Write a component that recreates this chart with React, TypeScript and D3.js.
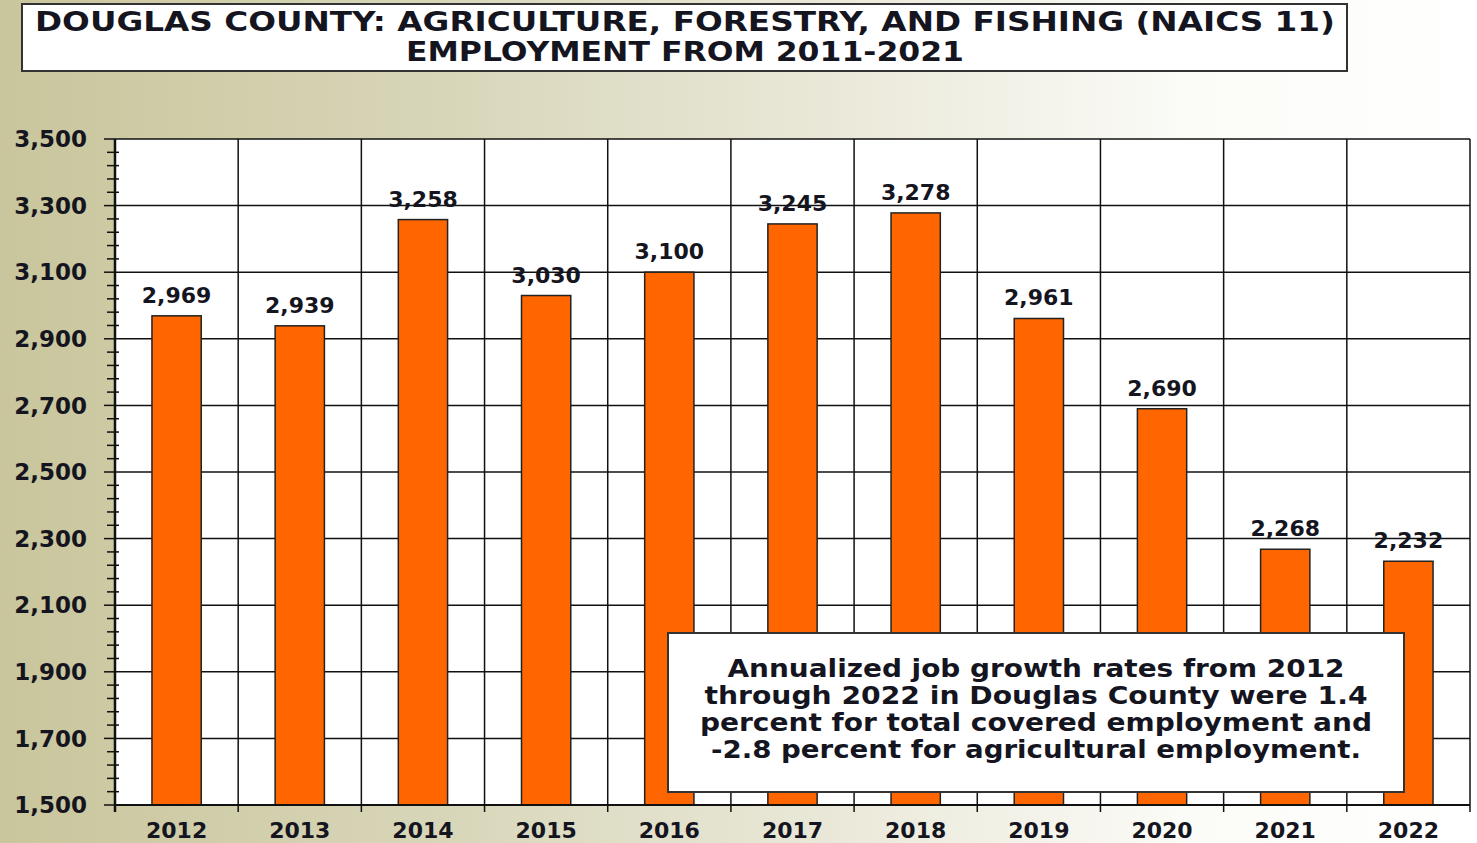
import React, { useEffect, useRef } from 'react';
import * as d3 from 'd3';

const years = ['2012', '2013', '2014', '2015', '2016', '2017', '2018', '2019', '2020', '2021', '2022'];
const employment = [2969, 2939, 3258, 3030, 3100, 3245, 3278, 2961, 2690, 2268, 2232];
const yTicks = [1500, 1700, 1900, 2100, 2300, 2500, 2700, 2900, 3100, 3300, 3500];
const titleLines = [
  'DOUGLAS COUNTY: AGRICULTURE, FORESTRY, AND FISHING (NAICS 11)',
  'EMPLOYMENT FROM 2011-2021',
];
const noteLines = [
  'Annualized job growth rates from 2012',
  'through 2022 in Douglas County were 1.4',
  'percent for total covered employment and',
  '-2.8 percent for agricultural employment.',
];

const W = 1477;
const H = 843;
const FONT = '"DejaVu Sans", Verdana, sans-serif';
const INK = '#15151f';

export default function App() {
  const svgRef = useRef<SVGSVGElement>(null);

  useEffect(() => {
    if (!svgRef.current) return;
    const svg = d3.select(svgRef.current);
    svg.selectAll('*').remove();

    const margin = { top: 139, right: 5, bottom: 38, left: 115 };
    const plotRight = W - margin.right;
    const plotBottom = H - margin.bottom;

    // background gradient
    const defs = svg.append('defs');
    const grad = defs.append('linearGradient').attr('id', 'bg').attr('x1', 0).attr('x2', 1).attr('y1', 0).attr('y2', 0);
    grad.append('stop').attr('offset', '0%').attr('stop-color', '#c9c59c');
    grad.append('stop').attr('offset', '30%').attr('stop-color', '#d8d6b9');
    grad.append('stop').attr('offset', '60%').attr('stop-color', '#ecebdd');
    grad.append('stop').attr('offset', '80%').attr('stop-color', '#fbfbf7');
    grad.append('stop').attr('offset', '100%').attr('stop-color', '#ffffff');
    svg.append('rect').attr('width', W).attr('height', H).attr('fill', 'url(#bg)');

    const x = d3.scaleBand().domain(years).range([margin.left, plotRight - 2]).paddingInner(0).paddingOuter(0);
    const y = d3.scaleLinear().domain([1500, 3500]).range([plotBottom, margin.top]);

    // plot area
    svg.append('rect')
      .attr('x', margin.left).attr('y', margin.top)
      .attr('width', plotRight - 2 - margin.left).attr('height', plotBottom - margin.top)
      .attr('fill', '#ffffff');

    // horizontal gridlines
    svg.append('g').selectAll('line').data(yTicks).join('line')
      .attr('x1', margin.left).attr('x2', plotRight - 2)
      .attr('y1', d => y(d)).attr('y2', d => y(d))
      .attr('stroke', '#111').attr('stroke-width', 1.5);

    // vertical gridlines at category boundaries
    const bounds = years.map(d => x(d) as number).concat([x.range()[1]]);
    svg.append('g').selectAll('line').data(bounds).join('line')
      .attr('x1', d => d).attr('x2', d => d)
      .attr('y1', margin.top).attr('y2', plotBottom + 7)
      .attr('stroke', '#111').attr('stroke-width', 1.5);

    // bars
    const barW = x.bandwidth() * 0.4;
    svg.append('g').selectAll('rect').data(employment).join('rect')
      .attr('x', (d, i) => (x(years[i]) as number) + x.bandwidth() / 2 - barW / 2)
      .attr('y', d => y(d))
      .attr('width', barW)
      .attr('height', d => plotBottom - y(d))
      .attr('fill', '#ff6600')
      .attr('stroke', '#222')
      .attr('stroke-width', 1.5);

    // bar value labels
    svg.append('g').selectAll('text').data(employment).join('text')
      .attr('x', (d, i) => (x(years[i]) as number) + x.bandwidth() / 2)
      .attr('y', d => y(d) - 13)
      .attr('text-anchor', 'middle')
      .attr('font-family', FONT).attr('font-weight', 'bold').attr('font-size', 22)
      .attr('fill', INK)
      .text(d => d3.format(',')(d));

    // y axis with minor ticks
    const minor = d3.range(1500, 3501, 40).filter(v => !yTicks.includes(v));
    svg.append('g').selectAll('line').data(minor).join('line')
      .attr('x1', margin.left - 8).attr('x2', margin.left + 4)
      .attr('y1', d => y(d)).attr('y2', d => y(d))
      .attr('stroke', '#111').attr('stroke-width', 1.5);
    svg.append('g').selectAll('line').data(yTicks).join('line')
      .attr('x1', margin.left - 11).attr('x2', margin.left)
      .attr('y1', d => y(d)).attr('y2', d => y(d))
      .attr('stroke', '#111').attr('stroke-width', 1.5);
    svg.append('line')
      .attr('x1', margin.left).attr('x2', margin.left)
      .attr('y1', margin.top).attr('y2', plotBottom + 7)
      .attr('stroke', '#111').attr('stroke-width', 2.5);
    svg.append('line')
      .attr('x1', margin.left).attr('x2', plotRight - 2)
      .attr('y1', plotBottom).attr('y2', plotBottom)
      .attr('stroke', '#111').attr('stroke-width', 2);

    svg.append('g').selectAll('text').data(yTicks).join('text')
      .attr('x', 87).attr('y', d => y(d)).attr('dy', '0.36em')
      .attr('text-anchor', 'end')
      .attr('font-family', FONT).attr('font-weight', 'bold').attr('font-size', 23)
      .attr('fill', INK)
      .text(d => d3.format(',')(d));

    // x labels
    svg.append('g').selectAll('text').data(years).join('text')
      .attr('x', d => (x(d) as number) + x.bandwidth() / 2)
      .attr('y', 838)
      .attr('text-anchor', 'middle')
      .attr('font-family', FONT).attr('font-weight', 'bold').attr('font-size', 22)
      .attr('fill', INK)
      .text(d => d);

    // title box
    svg.append('rect')
      .attr('x', 22).attr('y', 4).attr('width', 1325).attr('height', 67)
      .attr('fill', '#ffffff').attr('stroke', '#333').attr('stroke-width', 2);
    const titleWidths = [1300, 558];
    svg.append('g').selectAll('text').data(titleLines).join('text')
      .attr('x', 685).attr('y', (d, i) => 31 + i * 30)
      .attr('text-anchor', 'middle')
      .attr('font-family', FONT).attr('font-weight', 'bold').attr('font-size', 26)
      .attr('fill', INK)
      .attr('textLength', (d, i) => titleWidths[i])
      .attr('lengthAdjust', 'spacingAndGlyphs')
      .text(d => d);

    // annotation box
    svg.append('rect')
      .attr('x', 668).attr('y', 633).attr('width', 736).attr('height', 159)
      .attr('fill', '#ffffff').attr('stroke', '#333').attr('stroke-width', 2);
    const noteWidths = [617, 663, 672, 650];
    svg.append('g').selectAll('text').data(noteLines).join('text')
      .attr('x', 1036).attr('y', (d, i) => 677 + i * 27)
      .attr('text-anchor', 'middle')
      .attr('font-family', FONT).attr('font-weight', 'bold').attr('font-size', 24)
      .attr('fill', INK)
      .attr('textLength', (d, i) => noteWidths[i])
      .attr('lengthAdjust', 'spacingAndGlyphs')
      .text(d => d);
  }, []);

  return (
    <svg
      ref={svgRef}
      width={W}
      height={H}
      style={{ position: 'absolute', left: 0, top: 0, display: 'block' }}
    />
  );
}
